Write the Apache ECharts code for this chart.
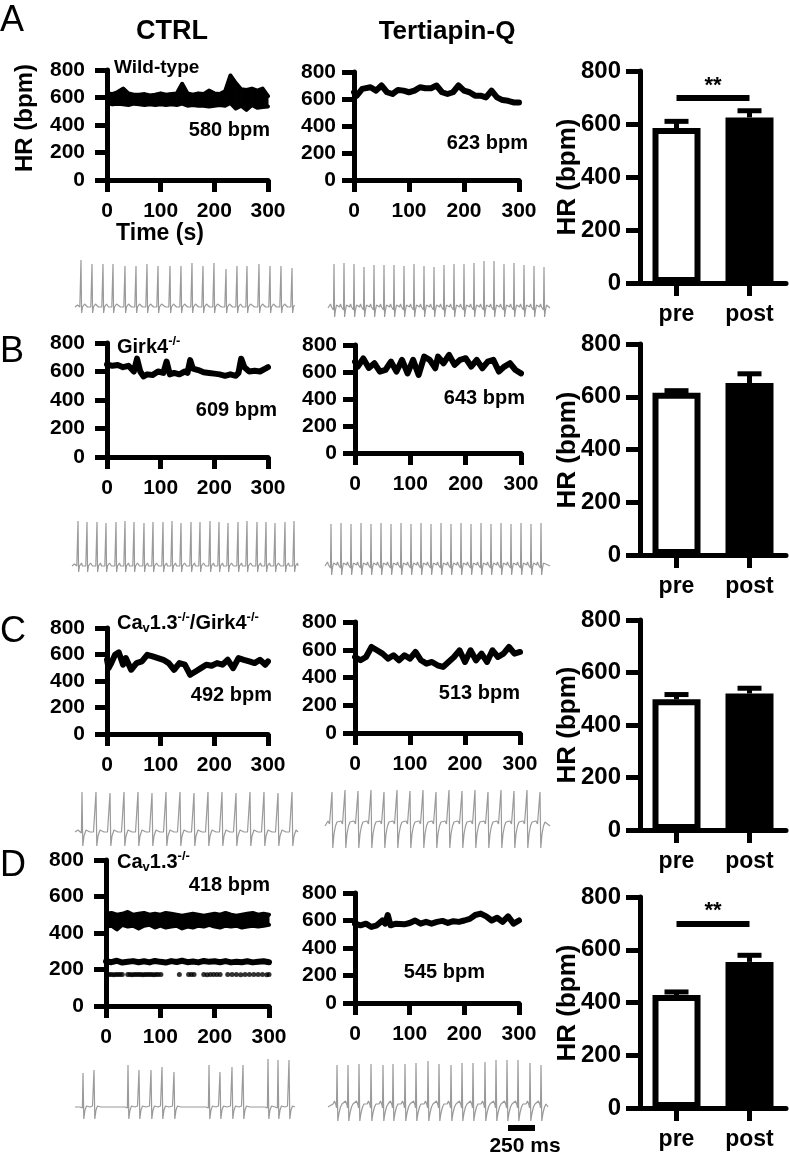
<!DOCTYPE html>
<html><head><meta charset="utf-8">
<script src="https://cdn.jsdelivr.net/npm/echarts@6/dist/echarts.min.js"></script>
<style>html,body{margin:0;padding:0;background:#fff}#c{width:789px;height:1159px}</style>
</head><body><div id="c"></div>
<script>
// ---------- DATA ----------
const timeTicks = [0, 100, 200, 300];
const hrTicks = [0, 200, 400, 600, 800];
const barCats = ['pre', 'post'];

// Row A CTRL (wild-type) – noisy band: upper / lower envelopes
const hrA_ctrl_t  = [0,10,20,30,40,50,60,70,80,90,100,110,120,130,140,150,160,170,180,190,200,210,220,230,240,250,260,270,280,290,300];
const hrA_ctrl_hi = [630,625,640,665,630,620,620,625,615,620,630,620,625,630,700,630,620,630,625,650,630,625,645,760,705,660,655,665,650,665,610];
const hrA_ctrl_lo = [560,550,555,550,545,555,550,545,550,545,550,545,550,545,555,540,545,540,540,535,540,545,540,560,520,540,510,545,525,530,535];
// Row A Tertiapin-Q
const hrA_tert = [[0,650],[5,625],[15,675],[30,687],[40,662],[50,700],[60,650],[70,637],[80,667],[90,662],[100,650],[110,662],[120,687],[130,680],[140,680],[150,700],[160,650],[170,637],[180,650],[190,700],[200,662],[210,650],[220,625],[230,625],[240,612],[250,662],[260,612],[270,592],[280,587],[290,575],[300,575]];
// Row B
const hrB_ctrl = [[0,650],[10,640],[20,645],[30,630],[40,640],[50,600],[56,690],[62,600],[68,565],[75,580],[85,575],[95,600],[105,590],[111,670],[117,580],[125,590],[135,580],[145,600],[150,590],[155,680],[160,620],[170,610],[180,595],[190,590],[200,585],[210,580],[220,570],[230,580],[240,570],[245,590],[250,690],[256,630],[265,600],[275,605],[285,600],[295,620],[300,630]];
const hrB_tert = [[0,676],[5,640],[15,700],[25,630],[35,665],[45,603],[55,615],[65,677],[75,603],[85,690],[95,590],[105,690],[115,578],[125,714],[135,690],[145,628],[150,714],[160,665],[170,727],[180,653],[190,690],[200,702],[210,640],[220,690],[230,628],[240,677],[250,690],[260,603],[270,640],[280,665],[290,615],[300,590]];
// Row C
const hrC_ctrl = [[0,560],[3,497],[8,535],[15,598],[22,616],[30,523],[35,573],[45,485],[55,535],[65,548],[75,598],[85,586],[95,573],[105,560],[115,535],[125,485],[135,535],[145,523],[155,447],[165,472],[175,497],[185,523],[195,515],[205,535],[215,523],[225,560],[235,497],[245,573],[255,560],[265,548],[275,535],[285,560],[295,523],[300,548]];
const hrC_tert = [[0,548],[10,524],[20,548],[30,620],[40,596],[50,572],[60,536],[70,560],[80,524],[90,560],[100,536],[110,584],[120,524],[130,500],[140,512],[150,488],[160,476],[170,512],[180,548],[190,596],[200,512],[210,596],[220,524],[230,572],[240,512],[250,596],[260,548],[270,572],[280,620],[290,572],[300,584]];
// Row D CTRL (Cav1.3-/-): main band envelopes, 2:1 band, 3:1 dotted band
const hrD_ctrl_t  = [0,10,20,30,40,50,60,70,80,90,100,110,120,130,140,150,160,170,180,190,200,210,220,230,240,250,260,270,280,290,300];
const hrD_ctrl_hi = [505,510,500,505,515,500,505,510,500,505,500,510,505,500,495,500,505,500,495,500,505,500,510,500,495,500,505,510,500,505,500];
const hrD_ctrl_lo = [435,440,420,445,435,440,425,440,445,430,440,430,435,440,425,435,430,440,435,445,435,430,440,435,440,430,435,440,435,440,445];
const hrD_ctrl_mid = [[0,245],[10,240],[20,248],[30,238],[40,242],[50,246],[60,240],[70,245],[80,239],[90,247],[100,242],[110,238],[120,246],[130,241],[140,248],[150,240],[160,244],[170,239],[180,247],[190,242],[200,245],[210,240],[220,246],[230,239],[240,243],[250,240],[260,245],[270,239],[280,242],[290,245],[300,240]];
const hrD_ctrl_lowT = [2,6,10,14,18,22,26,30,40,44,48,52,56,60,64,68,72,76,80,84,88,92,96,101,135,152,157,162,180,186,192,198,204,210,224,232,240,248,256,264,272,280,288,296,300];
const hrD_ctrl_lowV = [172,173,172,171,172,173,172,172,173,172,171,172,173,172,172,171,172,173,172,172,171,172,173,172,172,172,173,172,172,171,172,173,172,172,172,173,172,171,172,172,173,172,172,171,172];
// Row D Tertiapin-Q
const hrD_tert = [[0,577],[10,565],[20,577],[30,553],[40,565],[50,600],[55,577],[60,640],[65,565],[75,577],[90,572],[100,582],[110,600],[120,577],[130,590],[140,577],[150,590],[160,597],[170,582],[180,595],[190,590],[200,600],[210,612],[220,640],[230,650],[240,630],[250,600],[260,620],[270,590],[280,630],[290,577],[300,600]];

// Bar charts: means and SEM (bpm)
const barMeanA = [585, 625], barErrA = [25, 25];
const barMeanB = [615, 652], barErrB = [8, 35];
const barMeanC = [498, 520], barErrC = [18, 20];
const barMeanD = [428, 554], barErrD = [12, 25];
const sigLevelA = 700, sigLevelD = 700;
const sigLabel = '**';

// ECG traces: spike positions (page px) and spike amplitudes (px above baseline)
const ecgA1Beats = [81,92,103,113,125,136,147,158,170,181,192,203,214,226,237,247,259,270,281,292];
const ecgA1Amp   = [47,43,43,43,41,41,43,41,41,41,44,41,44,38,41,41,43,41,41,39];
const ecgA2Beats = [334,344,354,364,374,384,394,404,414,424,434,444,454,464,474,484,494,504,514,524,534,544];
const ecgA2Amp   = [44,45,44,41,43,43,43,42,44,42,41,43,44,44,45,47,47,44,45,43,42,41];
const ecgB1Beats = [78,87,97,106,116,125,134,144,153,163,172,181,191,200,210,219,228,238,247,257,266,275,285,294];
const ecgB1Amp   = [45,44,44,43,44,45,44,43,44,44,45,43,44,44,45,44,43,44,45,44,44,43,44,45];
const ecgB2Beats = [331,341,351,361,371,381,391,401,411,421,431,441,451,461,471,481,491,501,511,521,531,541];
const ecgB2Amp   = [42,43,42,43,42,43,42,43,42,43,42,43,42,43,42,43,42,43,42,43,42,43];
const ecgC1Beats = [82,96,110,124,138,152,166,180,194,208,222,236,250,264,278,292];
const ecgC1Amp   = [40,40,39,40,40,39,40,40,39,40,40,39,40,40,39,40];
const ecgC2Beats = [332,345,358,371,384,397,410,423,436,449,462,475,488,501,514,527,540];
const ecgC2Amp   = [34,36,35,36,34,36,35,36,34,36,35,36,34,36,35,36,34];
const ecgD1Beats = [83,94,128,139,151,162,174,209,220,232,243,268,278,289];
const ecgD1Amp   = [34,37,42,37,37,40,35,42,35,40,42,48,47,47];
const ecgD2Beats = [337,348,359,371,383,393,405,416,428,439,451,462,473,485,496,507,518,530,541];
const ecgD2Amp   = [42,42,43,43,42,43,43,44,46,43,42,44,44,45,47,47,47,44,42];
// beat shapes: [dx px, dy px] (null = R spike)
const beatNarrow = [[-4.5,0],[-3.5,2],[-2.5,1],[-1.2,0],[-0.5,-2],[0,null],[0.6,-6],[1.5,0],[2.5,2],[3.5,3],[4.5,1]];
const beatBumpy  = [[-4.5,1],[-3.5,4],[-2.5,1],[-1.5,3],[-0.5,-2],[0,null],[0.6,-9],[1.5,-2],[2.5,3],[3.5,5],[4.5,2]];
const beatSdip   = [[-6,0],[-4,2],[-2.5,0],[-0.6,-1],[0,null],[0.8,-14],[2,-4],[4,2],[6,1]];
const beatDeepS  = [[-6,2],[-4,5],[-2.5,2],[-0.6,0],[0,null],[0.8,-22],[2,-8],[3.5,0],[5,4]];
const beatPaced  = [[-3,0],[-1.5,1],[-0.6,-1],[0,null],[0.8,-12],[2,-3],[3.5,1],[5,2],[7,0]];
const beatTwave  = [[-4,3],[-2.5,6],[-1,2],[-0.5,-1],[0,null],[0.8,-14],[2,-6],[3.5,0],[5,3]];

// ---------- BUILD ----------
const FONT = '"Liberation Sans", Arial, Helvetica, sans-serif';
const BLK = '#000';
const grids = [], xAxes = [], yAxes = [], series = [];

function tsPanel(box, ylabMargin) {
  const g = grids.length;
  grids.push({left: box[0], top: box[1], width: box[2], height: box[3]});
  xAxes.push({gridIndex: g, type: 'value', min: timeTicks[0], max: timeTicks[timeTicks.length-1], interval: timeTicks[1]-timeTicks[0],
    axisLine: {show: true, onZero: false, lineStyle: {color: BLK, width: 5}},
    axisTick: {show: true, length: 12, lineStyle: {color: BLK, width: 5}},
    axisLabel: {color: BLK, fontSize: 21, fontWeight: 'bold', fontFamily: FONT, margin: 21},
    splitLine: {show: false}});
  yAxes.push({gridIndex: g, type: 'value', min: hrTicks[0], max: hrTicks[hrTicks.length-1], interval: hrTicks[1]-hrTicks[0],
    axisLine: {show: true, onZero: false, lineStyle: {color: BLK, width: 5}},
    axisTick: {show: true, length: 12, lineStyle: {color: BLK, width: 5}},
    axisLabel: {color: BLK, fontSize: 21, fontWeight: 'bold', fontFamily: FONT, margin: ylabMargin},
    splitLine: {show: false}});
  return g;
}
function hrLine(g, data, w) {
  series.push({type: 'line', xAxisIndex: g, yAxisIndex: g, data: data, showSymbol: false, symbol: 'none',
    lineStyle: {color: BLK, width: w || 6, join: 'round', cap: 'round'}, silent: true, z: 3});
}
function hrBand(g, t, hi, lo) {
  const n = t.length;
  series.push({type: 'custom', xAxisIndex: g, yAxisIndex: g, silent: true, z: 3,
    data: t.map((x, i) => [x, lo[i], hi[i]]),
    renderItem: function (params, api) {
      const i = params.dataIndexInside;
      if (i >= n - 1) return null;
      const p1 = api.coord([api.value(0, i), api.value(1, i)]);
      const p2 = api.coord([api.value(0, i + 1), api.value(1, i + 1)]);
      const p3 = api.coord([api.value(0, i + 1), api.value(2, i + 1)]);
      const p4 = api.coord([api.value(0, i), api.value(2, i)]);
      return {type: 'polygon', shape: {points: [p1, p2, p3, p4]}, style: {fill: BLK, stroke: BLK, lineWidth: 1}};
    }});
  hrLine(g, t.map((x, i) => [x, hi[i]]), 4);
  hrLine(g, t.map((x, i) => [x, lo[i]]), 4);
}

// Time-series panels
const gA1 = tsPanel([107, 70, 161, 110], 22);
const gA2 = tsPanel([354, 72, 165, 108], 18);
const gB1 = tsPanel([107, 343, 161, 114], 22);
const gB2 = tsPanel([355, 345, 166, 108], 18);
const gC1 = tsPanel([107, 628, 161, 106], 22);
const gC2 = tsPanel([355, 622, 165, 111], 18);
const gD1 = tsPanel([106, 860, 163, 146], 22);
const gD2 = tsPanel([355, 893, 164, 110], 18);

hrBand(gA1, hrA_ctrl_t, hrA_ctrl_hi, hrA_ctrl_lo);
hrLine(gA2, hrA_tert);
hrLine(gB1, hrB_ctrl);
hrLine(gB2, hrB_tert);
hrLine(gC1, hrC_ctrl);
hrLine(gC2, hrC_tert);
hrBand(gD1, hrD_ctrl_t, hrD_ctrl_hi, hrD_ctrl_lo);
hrLine(gD1, hrD_ctrl_mid, 6);
series.push({type: 'scatter', xAxisIndex: gD1, yAxisIndex: gD1, data: hrD_ctrl_lowT.map((x, i) => [x, hrD_ctrl_lowV[i]]),
  symbol: 'circle', symbolSize: 5, itemStyle: {color: BLK}, silent: true});
hrLine(gD2, hrD_tert);

// Bar panels
function barPanel(box, means, errs, sig) {
  const g = grids.length;
  grids.push({left: box[0], top: box[1], width: box[2], height: box[3]});
  xAxes.push({gridIndex: g, type: 'category', data: barCats,
    axisLine: {show: true, onZero: false, lineStyle: {color: BLK, width: 5}},
    axisTick: {show: true, alignWithLabel: true, length: 13, lineStyle: {color: BLK, width: 5}},
    axisLabel: {color: BLK, fontSize: 23, fontWeight: 'bold', fontFamily: FONT, margin: 20}});
  yAxes.push({gridIndex: g, type: 'value', min: hrTicks[0], max: hrTicks[hrTicks.length-1], interval: hrTicks[1]-hrTicks[0],
    axisLine: {show: true, onZero: false, lineStyle: {color: BLK, width: 5}},
    axisTick: {show: true, length: 14, lineStyle: {color: BLK, width: 5}},
    axisLabel: {color: BLK, fontSize: 24, fontWeight: 'bold', fontFamily: FONT, margin: 19},
    splitLine: {show: false}});
  const s = {type: 'bar', xAxisIndex: g, yAxisIndex: g, barWidth: 48, silent: true,
    data: [
      {value: means[0], itemStyle: {color: '#fff', borderColor: BLK, borderWidth: 6}},
      {value: means[1], itemStyle: {color: BLK, borderColor: BLK, borderWidth: 6}}
    ]};
  if (sig != null) {
    s.markLine = {silent: true, symbol: ['none', 'none'], animation: false,
      lineStyle: {color: BLK, width: 6, type: 'solid'},
      label: {show: true, position: 'middle', formatter: sigLabel, color: BLK, fontSize: 22, fontWeight: 'bold', fontFamily: FONT, distance: 1},
      emphasis: {disabled: true},
      data: [[{coord: [barCats[0], sig]}, {coord: [barCats[1], sig]}]]};
  }
  series.push(s);
  series.push({type: 'custom', xAxisIndex: g, yAxisIndex: g, silent: true, z: 5,
    data: means.map((m, i) => [i, m, errs[i]]),
    renderItem: function (params, api) {
      const b = api.coord([api.value(0), api.value(1)]);
      const t = api.coord([api.value(0), api.value(1) + api.value(2)]);
      const hw = 12;
      return {type: 'group', children: [
        {type: 'line', shape: {x1: b[0], y1: b[1], x2: t[0], y2: t[1]}, style: {stroke: BLK, lineWidth: 5}},
        {type: 'line', shape: {x1: t[0] - hw, y1: t[1], x2: t[0] + hw, y2: t[1]}, style: {stroke: BLK, lineWidth: 5}}
      ]};
    }});
}
barPanel([640, 71, 146, 212], barMeanA, barErrA, sigLevelA);
barPanel([640, 344, 146, 211], barMeanB, barErrB, null);
barPanel([640, 620, 146, 210], barMeanC, barErrC, null);
barPanel([640, 897, 146, 211], barMeanD, barErrD, sigLevelD);

// ECG panels
function ecgPanel(x0, x1, base, up, down, beats, amps, beat) {
  const g = grids.length;
  grids.push({left: x0, top: base - up, width: x1 - x0, height: up + down});
  xAxes.push({gridIndex: g, type: 'value', min: x0, max: x1, show: false});
  yAxes.push({gridIndex: g, type: 'value', min: -down, max: up, show: false});
  const pts = [[x0, 0]];
  beats.forEach((b, i) => beat.forEach(p => pts.push([b + p[0], p[1] === null ? amps[i] : p[1]])));
  pts.push([x1, 0]);
  const data = pts.filter(p => p[0] >= x0 && p[0] <= x1).sort((a, c) => a[0] - c[0]);
  series.push({type: 'line', xAxisIndex: g, yAxisIndex: g, data: data, symbol: 'none', silent: true,
    lineStyle: {color: '#9a9a9a', width: 1.2}});
}
ecgPanel(75, 295, 307, 50, 12, ecgA1Beats, ecgA1Amp, beatNarrow);
ecgPanel(328, 550, 308, 50, 14, ecgA2Beats, ecgA2Amp, beatBumpy);
ecgPanel(72, 298, 566, 50, 10, ecgB1Beats, ecgB1Amp, beatNarrow);
ecgPanel(325, 550, 566, 48, 12, ecgB2Beats, ecgB2Amp, beatBumpy);
ecgPanel(75, 298, 832, 44, 18, ecgC1Beats, ecgC1Amp, beatSdip);
ecgPanel(325, 550, 826, 40, 26, ecgC2Beats, ecgC2Amp, beatDeepS);
ecgPanel(75, 295, 1107, 50, 20, ecgD1Beats, ecgD1Amp, beatPaced);
ecgPanel(328, 548, 1107, 50, 18, ecgD2Beats, ecgD2Amp, beatTwave);

// Text
function txt(x, y, text, size, opts) {
  return Object.assign({type: 'text', x: x, y: y, silent: true, z: 100,
    style: Object.assign({text: text, fill: BLK, fontSize: size, fontWeight: 'bold', fontFamily: FONT, align: 'left', verticalAlign: 'middle'}, (opts && opts.style) || {})},
    (opts && opts.el) || {});
}
const rich = {
  a: {fontSize: 20, fontWeight: 'bold', fontFamily: FONT, lineHeight: 24, verticalAlign: 'middle'},
  v: {fontSize: 13, fontWeight: 'bold', fontFamily: FONT, lineHeight: 24, verticalAlign: 'bottom'},
  s: {fontSize: 13, fontWeight: 'bold', fontFamily: FONT, lineHeight: 16, verticalAlign: 'top'}
};
function richTxt(x, y, text) {
  return {type: 'text', x: x, y: y, silent: true, z: 100,
    style: {text: text, rich: rich, fill: BLK, align: 'left', verticalAlign: 'middle'}};
}
const graphics = [
  txt(0, 21, 'A', 36, {style: {fontWeight: 'normal'}}),
  txt(0, 352, 'B', 36, {style: {fontWeight: 'normal'}}),
  txt(0, 632, 'C', 36, {style: {fontWeight: 'normal'}}),
  txt(0, 866, 'D', 36, {style: {fontWeight: 'normal'}}),
  txt(172, 32, 'CTRL', 27, {style: {align: 'center'}}),
  txt(447, 32, 'Tertiapin-Q', 26, {style: {align: 'center'}}),
  txt(114, 68, 'Wild-type', 19),
  txt(160, 234, 'Time (s)', 23, {style: {align: 'center'}}),
  txt(25, 118, 'HR (bpm)', 24, {style: {align: 'center'}, el: {rotation: Math.PI / 2}}),
  txt(568, 177, 'HR (bpm)', 26, {style: {align: 'center'}, el: {rotation: Math.PI / 2}}),
  txt(568, 450, 'HR (bpm)', 26, {style: {align: 'center'}, el: {rotation: Math.PI / 2}}),
  txt(568, 725, 'HR (bpm)', 26, {style: {align: 'center'}, el: {rotation: Math.PI / 2}}),
  txt(568, 1003, 'HR (bpm)', 26, {style: {align: 'center'}, el: {rotation: Math.PI / 2}}),
  txt(270, 130, '580 bpm', 20, {style: {align: 'right'}}),
  txt(528, 143, '623 bpm', 20, {style: {align: 'right'}}),
  txt(277, 410, '609 bpm', 20, {style: {align: 'right'}}),
  txt(525, 398, '643 bpm', 20, {style: {align: 'right'}}),
  txt(272, 695, '492 bpm', 20, {style: {align: 'right'}}),
  txt(520, 693, '513 bpm', 20, {style: {align: 'right'}}),
  txt(270, 885, '418 bpm', 20, {style: {align: 'right'}}),
  txt(485, 972, '545 bpm', 20, {style: {align: 'right'}}),
  richTxt(117, 347, '{a|Girk4}{s|-/-}'),
  richTxt(117, 623, '{a|Ca}{v|v}{a|1.3}{s|-/-}{a|/Girk4}{s|-/-}'),
  richTxt(117, 862, '{a|Ca}{v|v}{a|1.3}{s|-/-}'),
  {type: 'rect', shape: {x: 508, y: 1125, width: 27, height: 6}, style: {fill: BLK}, silent: true},
  txt(525, 1146, '250 ms', 21, {style: {align: 'center'}})
];

const chart = echarts.init(document.getElementById('c'), null, {renderer: 'canvas', width: 789, height: 1159});
chart.setOption({
  animation: false,
  backgroundColor: '#fff',
  grid: grids, xAxis: xAxes, yAxis: yAxes, series: series,
  graphic: graphics
});
</script></body></html>
